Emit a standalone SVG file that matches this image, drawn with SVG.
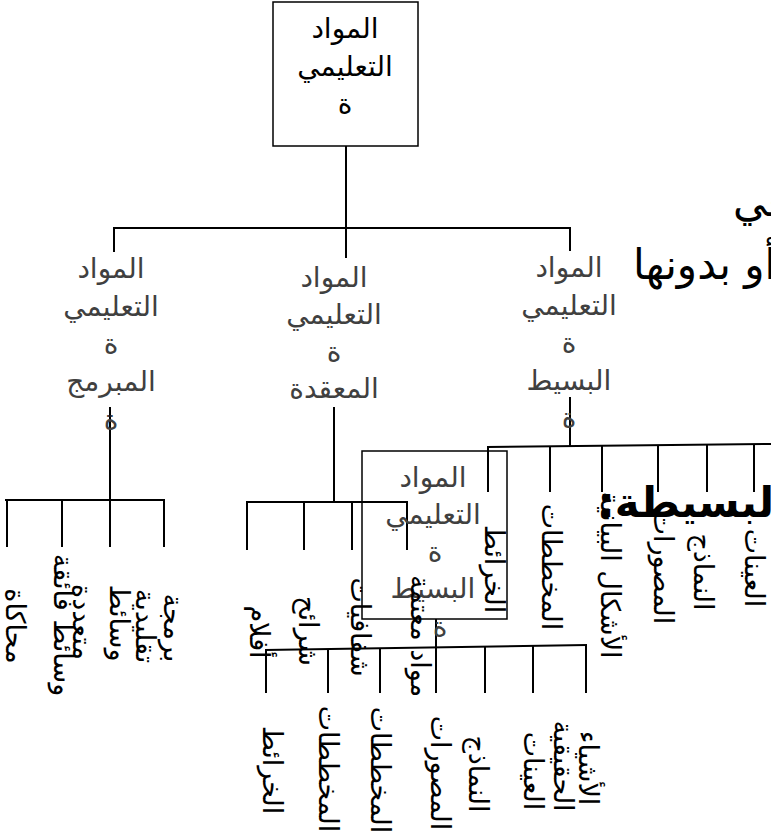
<svg xmlns="http://www.w3.org/2000/svg" width="771" height="834" viewBox="0 0 771 834">
<style>
.box{fill:none;stroke:#000;stroke-width:1.5}
#connectors line{stroke:#000;stroke-width:2}
.lbl{font-family:"DejaVu Sans","Noto Sans",sans-serif;font-size:28px;fill:#404040;text-anchor:middle}
.dark{fill:#000}
.v{font-family:"DejaVu Sans","Noto Sans",sans-serif;font-size:27px;fill:#000;text-anchor:middle}
.para{font-family:"DejaVu Sans","Noto Sans",sans-serif;font-size:42px;fill:#000}
</style>
<rect width="771" height="834" fill="#fff"/>
<g id="connectors">
<line x1="346" y1="146" x2="346" y2="258"/>
<line x1="113" y1="228" x2="571" y2="228"/>
<line x1="114" y1="227" x2="114" y2="252"/>
<line x1="570" y1="227" x2="570" y2="251"/>
<line x1="570" y1="397" x2="570" y2="446"/>
<line x1="487" y1="447" x2="771" y2="444"/>
<line x1="488" y1="446" x2="488" y2="492"/>
<line x1="550" y1="446" x2="550" y2="492"/>
<line x1="602" y1="445" x2="602" y2="492"/>
<line x1="658" y1="445" x2="658" y2="492"/>
<line x1="707" y1="444" x2="707" y2="492"/>
<line x1="754" y1="444" x2="754" y2="492"/>
<line x1="334" y1="407" x2="334" y2="502"/>
<line x1="246" y1="502" x2="408" y2="502"/>
<line x1="247" y1="502" x2="247" y2="550"/>
<line x1="304" y1="502" x2="304" y2="550"/>
<line x1="352" y1="502" x2="352" y2="550"/>
<line x1="407" y1="502" x2="407" y2="550"/>
<line x1="110" y1="407" x2="110" y2="500"/>
<line x1="5" y1="500" x2="165" y2="500"/>
<line x1="7" y1="500" x2="7" y2="547"/>
<line x1="62" y1="500" x2="62" y2="547"/>
<line x1="110" y1="500" x2="110" y2="547"/>
<line x1="164" y1="500" x2="164" y2="547"/>
<line x1="436" y1="619" x2="436" y2="693"/>
<line x1="265" y1="650" x2="587" y2="645"/>
<line x1="266" y1="650" x2="266" y2="693"/>
<line x1="328" y1="649" x2="328" y2="693"/>
<line x1="380" y1="648" x2="380" y2="693"/>
<line x1="485" y1="647" x2="485" y2="693"/>
<line x1="533" y1="646" x2="533" y2="693"/>
<line x1="586" y1="645" x2="586" y2="693"/>
</g>
<g id="node-root">
<rect class="box" x="273" y="2" width="145" height="144"/>
<text class="lbl dark" x="345" y="38">المواد</text>
<text class="lbl dark" x="345" y="75.5">التعليمي</text>
<text class="lbl dark" x="345" y="113">ة</text>
</g>
<g id="node-simple">
<text class="lbl" x="569" y="277">المواد</text>
<text class="lbl" x="569" y="314.5">التعليمي</text>
<text class="lbl" x="569" y="352">ة</text>
<text class="lbl" x="569" y="389.5">البسيط</text>
<text class="lbl" x="569" y="427">ة</text>
</g>
<g id="node-complex">
<text class="lbl" x="334" y="287">المواد</text>
<text class="lbl" x="334" y="324">التعليمي</text>
<text class="lbl" x="334" y="361">ة</text>
<text class="lbl" x="334" y="398">المعقدة</text>
</g>
<g id="node-programmed">
<text class="lbl" x="111" y="278">المواد</text>
<text class="lbl" x="111" y="316">التعليمي</text>
<text class="lbl" x="111" y="353">ة</text>
<text class="lbl" x="111" y="391">المبرمج</text>
<text class="lbl" x="111" y="429">ة</text>
</g>
<g id="node-simple-2">
<rect class="box" x="362" y="451" width="145" height="168"/>
<text class="lbl" x="433" y="487">المواد</text>
<text class="lbl" x="433" y="524">التعليمي</text>
<text class="lbl" x="435" y="561">ة</text>
<text class="lbl" x="433" y="598">البسيط</text>
<text class="lbl" x="440" y="636">ة</text>
</g>
<g id="overflow-text">
<text class="para" x="733" y="216" direction="rtl" text-anchor="end">في</text>
<text class="para" x="633" y="279" direction="rtl" text-anchor="end">أو بدونها</text>
<text class="para" x="598" y="517" direction="rtl" text-anchor="end" font-weight="bold">البسيطة:</text>
</g>
<g id="leaves-simple">
<text class="v" x="485" y="569" transform="rotate(90 485 569)">الخرائط</text>
<text class="v" x="542" y="567" transform="rotate(90 542 567)">المخططات</text>
<text class="v" x="601" y="575" transform="rotate(90 601 575)">الأشكال البيانية</text>
<text class="v" x="654" y="567" transform="rotate(90 654 567)">المصورات</text>
<text class="v" x="694" y="572" transform="rotate(90 694 572)">النماذج</text>
<text class="v" x="745" y="568" transform="rotate(90 745 568)">العينات</text>
</g>
<g id="leaves-complex">
<text class="v" x="250" y="632" transform="rotate(90 250 632)">أفلام</text>
<text class="v" x="299" y="631" transform="rotate(90 299 631)">شرائح</text>
<text class="v" x="351" y="627" transform="rotate(90 351 627)">شفافيات</text>
<text class="v" x="411" y="636" transform="rotate(90 411 636)">مواد معتمة</text>
</g>
<g id="leaves-programmed">
<text class="v" x="6" y="626" transform="rotate(90 6 626)">محاكاة</text>
<text class="v" x="54" y="625" transform="rotate(90 54 625)">وسائط فائقة</text>
<text class="v" x="110" y="623" transform="rotate(90 110 623)">وسائط</text>
<text class="v" x="73" y="622" transform="rotate(90 73 622)">متعددة</text>
<text class="v" x="164" y="628" transform="rotate(90 164 628)">برمجة</text>
<text class="v" x="136" y="626" transform="rotate(90 136 626)">تقليدية</text>
</g>
<g id="leaves-simple-2">
<text class="v" x="263" y="770" transform="rotate(90 263 770)">الخرائط</text>
<text class="v" x="319" y="769" transform="rotate(90 319 769)">المخططات</text>
<text class="v" x="371" y="770" transform="rotate(90 371 770)">المخططات</text>
<text class="v" x="431" y="773" transform="rotate(90 431 773)">المصورات</text>
<text class="v" x="469" y="774" transform="rotate(90 469 774)">النماذج</text>
<text class="v" x="524" y="771" transform="rotate(90 524 771)">العينات</text>
<text class="v" x="579" y="768" transform="rotate(90 579 768)">الأشياء</text>
<text class="v" x="554" y="766" transform="rotate(90 554 766)">الحقيقية</text>
</g>
</svg>
